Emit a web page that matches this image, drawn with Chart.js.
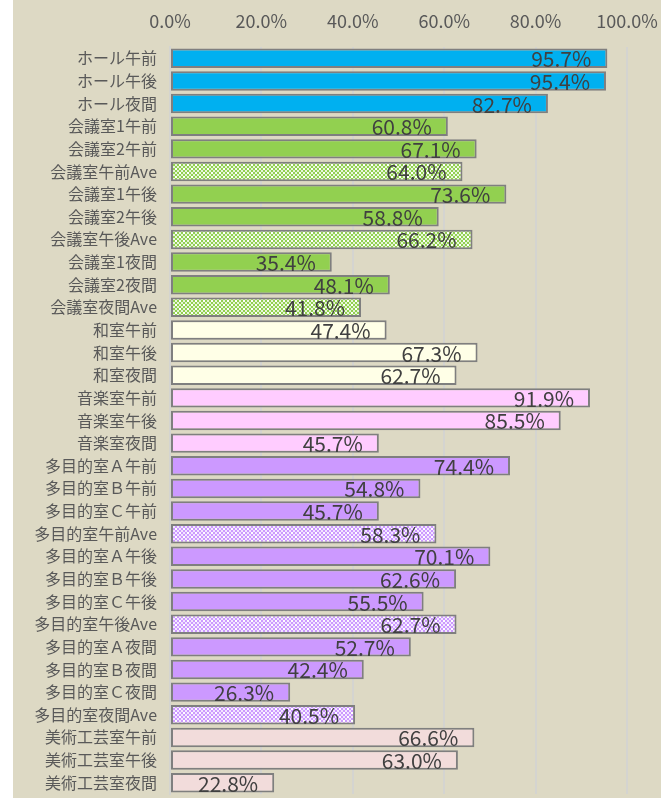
<!DOCTYPE html>
<html>
<head>
<meta charset="utf-8">
<script src="https://cdn.jsdelivr.net/npm/chart.js@4"></script>
<style>
  html, body { margin: 0; padding: 0; background: #fff; }
  #wrap { position: absolute; left: 13px; top: 0; width: 648px; height: 798px; background: #DDD9C4; }
</style>
</head>
<body>
<div id="wrap"><canvas id="chart" width="648" height="798"></canvas></div>
<script>
const categories = [
  'ホール午前', 'ホール午後', 'ホール夜間',
  '会議室1午前', '会議室2午前', '会議室午前Ave',
  '会議室1午後', '会議室2午後', '会議室午後Ave',
  '会議室1夜間', '会議室2夜間', '会議室夜間Ave',
  '和室午前', '和室午後', '和室夜間',
  '音楽室午前', '音楽室午後', '音楽室夜間',
  '多目的室Ａ午前', '多目的室Ｂ午前', '多目的室Ｃ午前', '多目的室午前Ave',
  '多目的室Ａ午後', '多目的室Ｂ午後', '多目的室Ｃ午後', '多目的室午後Ave',
  '多目的室Ａ夜間', '多目的室Ｂ夜間', '多目的室Ｃ夜間', '多目的室夜間Ave',
  '美術工芸室午前', '美術工芸室午後', '美術工芸室夜間'
];
const values = [
  95.7, 95.4, 82.7,
  60.8, 67.1, 64.0,
  73.6, 58.8, 66.2,
  35.4, 48.1, 41.8,
  47.4, 67.3, 62.7,
  91.9, 85.5, 45.7,
  74.4, 54.8, 45.7, 58.3,
  70.1, 62.6, 55.5, 62.7,
  52.7, 42.4, 26.3, 40.5,
  66.6, 63.0, 22.8
];
const xTicks = [0, 20, 40, 60, 80, 100];

// room colours, matched by label prefix: [prefix, fill, light checker tone]
const roomColors = [
  ['ホール', '#00B0F0', '#C8EEFC'],
  ['会議室', '#92D050', '#E6F5D8'],
  ['和室', '#FFFFE7', '#FFFFFF'],
  ['音楽室', '#FFCCFF', '#FFF2FF'],
  ['多目的室', '#CC99FF', '#F2E6FF'],
  ['美術工芸室', '#F2DCDB', '#FBF3F3']
];

function room(label) {
  return roomColors.find(r => label.startsWith(r[0])) || ['', '#999', '#ddd'];
}

// small checker with white specks, used for the Ave bars
function makePattern(color, light) {
  const c = document.createElement('canvas');
  c.width = 16; c.height = 16;
  const g = c.getContext('2d');
  for (let j = 0; j < 8; j++) {
    for (let i = 0; i < 8; i++) {
      let f = (i + j) % 2 === 0 ? color : light;
      if ((j % 4 === 0 && i % 4 === 1) || (j % 4 === 2 && i % 4 === 3)) f = '#FFFFFF';
      g.fillStyle = f;
      g.fillRect(i * 2, j * 2, 2, 2);
    }
  }
  return g.createPattern(c, 'repeat');
}

const fills = categories.map(l => {
  const r = room(l);
  return l.endsWith('Ave') ? makePattern(r[1], r[2]) : r[1];
});

const barLabels = {
  id: 'barLabels',
  afterDatasetsDraw(chart) {
    const ctx = chart.ctx;
    const meta = chart.getDatasetMeta(0);
    ctx.save();
    ctx.font = '21px "Noto Sans CJK JP"';
    ctx.fillStyle = '#404040';
    ctx.textAlign = 'right';
    ctx.textBaseline = 'middle';
    meta.data.forEach((bar, i) => {
      ctx.fillText(values[i].toFixed(1) + '%', bar.x - 16, bar.y + 1);
    });
    ctx.restore();
  }
};

new Chart(document.getElementById('chart'), {
  type: 'bar',
  data: {
    labels: categories,
    datasets: [{
      data: values,
      backgroundColor: fills,
      borderColor: '#7F7F7F',
      borderWidth: 2,
      borderSkipped: false,
      barPercentage: 0.86,
      categoryPercentage: 1
    }]
  },
  options: {
    indexAxis: 'y',
    responsive: false,
    animation: false,
    devicePixelRatio: 1,
    layout: { padding: { left: 0, right: 34, top: 0, bottom: 4 } },
    plugins: {
      legend: { display: false },
      tooltip: { enabled: false }
    },
    scales: {
      x: {
        position: 'top',
        min: 0,
        max: 100,
        afterBuildTicks: s => { s.ticks = xTicks.map(v => ({ value: v })); },
        afterFit: s => { s.height = 47; s.paddingLeft = 0; s.paddingRight = 0; },
        border: { display: false },
        grid: { color: '#D4D4D0', lineWidth: 2, drawTicks: false },
        ticks: {
          padding: 15,
          maxRotation: 0,
          color: '#595959',
          font: { family: 'Noto Sans CJK JP', size: 18 },
          callback: v => v.toFixed(1) + '%'
        }
      },
      y: {
        afterFit: s => { s.width = 157; s.paddingTop = 0; s.paddingBottom = 0; },
        border: { display: true, color: '#D4D4D0', width: 2 },
        grid: { display: false, drawTicks: false },
        ticks: {
          padding: 13,
          color: '#595959',
          autoSkip: false,
          font: { family: 'Noto Sans CJK JP', size: 16 }
        }
      }
    }
  },
  plugins: [barLabels]
});
</script>
</body>
</html>
